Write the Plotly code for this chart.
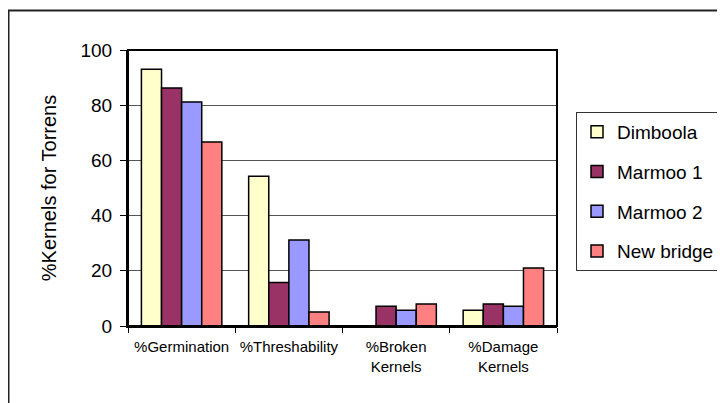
import plotly.graph_objects as go

categories = ["%Germination", "%Threshability", "%Broken<br>Kernels", "%Damage<br>Kernels"]
series_names = ["Dimboola", "Marmoo 1", "Marmoo 2", "New bridge"]
dimboola = [93, 54.3, 0, 5.7]
marmoo1 = [86.2, 15.8, 7.2, 8.0]
marmoo2 = [81.2, 31.2, 5.7, 7.2]
new_bridge = [66.7, 5.1, 8.0, 21.0]
colors = ["#FFFFCC", "#993366", "#9999FF", "#FF8080"]
y_ticks = [0, 20, 40, 60, 80, 100]

fig = go.Figure()
for i, (name, vals) in enumerate(zip(series_names, [dimboola, marmoo1, marmoo2, new_bridge])):
    fig.add_trace(go.Bar(
        x=categories, y=vals, name=name, legendgroup=name,
        marker=dict(color=colors[i], line=dict(color="black", width=1.5)),
    ))

# page body has an 8px margin; compensate
OFF = 8
W, H = 725 - OFF, 403 - OFF
L, R, T, B = 128 - OFF, 557 - OFF, 50 - OFF, 326 - OFF
pw, ph = R - L, B - T

def px(x):
    return (x - OFF - L) / pw

def py(y):
    return (B - (y - OFF)) / ph

fig.update_layout(
    width=W, height=H,
    margin=dict(l=L, r=W - R, t=T, b=H - B, autoexpand=False),
    paper_bgcolor="white", plot_bgcolor="white",
    barmode="group", bargap=0.25, bargroupgap=0,
    font=dict(family="Liberation Sans, Arial, sans-serif", color="black"),
    showlegend=True,
    legend=dict(
        x=px(720), y=py(112), xanchor="right", yanchor="top",
        bordercolor="#333", borderwidth=1, bgcolor="white",
        font=dict(size=19), tracegroupgap=12,
        itemwidth=30,
    ),
    xaxis=dict(
        showline=True, linecolor="black", linewidth=2,
        ticks="outside", tickson="boundaries", ticklen=5, tickcolor="black",
        tickfont=dict(size=15), tickangle=0, mirror=False, automargin=False,
        ticklabelstandoff=6,
    ),
    yaxis=dict(
        range=[0, 100], tickvals=y_ticks,
        showline=True, linecolor="black", linewidth=2,
        ticks="outside", ticklen=6, tickcolor="black",
        tickfont=dict(size=19), automargin=False, ticklabelstandoff=4,
        showgrid=True, gridcolor="#555", gridwidth=1,
        title=dict(text="%Kernels for Torrens", font=dict(size=20), standoff=18),
        zeroline=False,
    ),
)

# plot area top and right border
fig.add_shape(type="rect", xref="paper", yref="paper", x0=0, y0=0, x1=1, y1=1,
              line=dict(color="black", width=2), layer="above")
# outer chart border (right and bottom edges fall outside the picture)
fig.add_shape(type="rect", xref="paper", yref="paper",
              x0=px(8.5), y0=py(420), x1=px(745), y1=py(10.5),
              line=dict(color="#222", width=2))

fig.write_html("out.html")
